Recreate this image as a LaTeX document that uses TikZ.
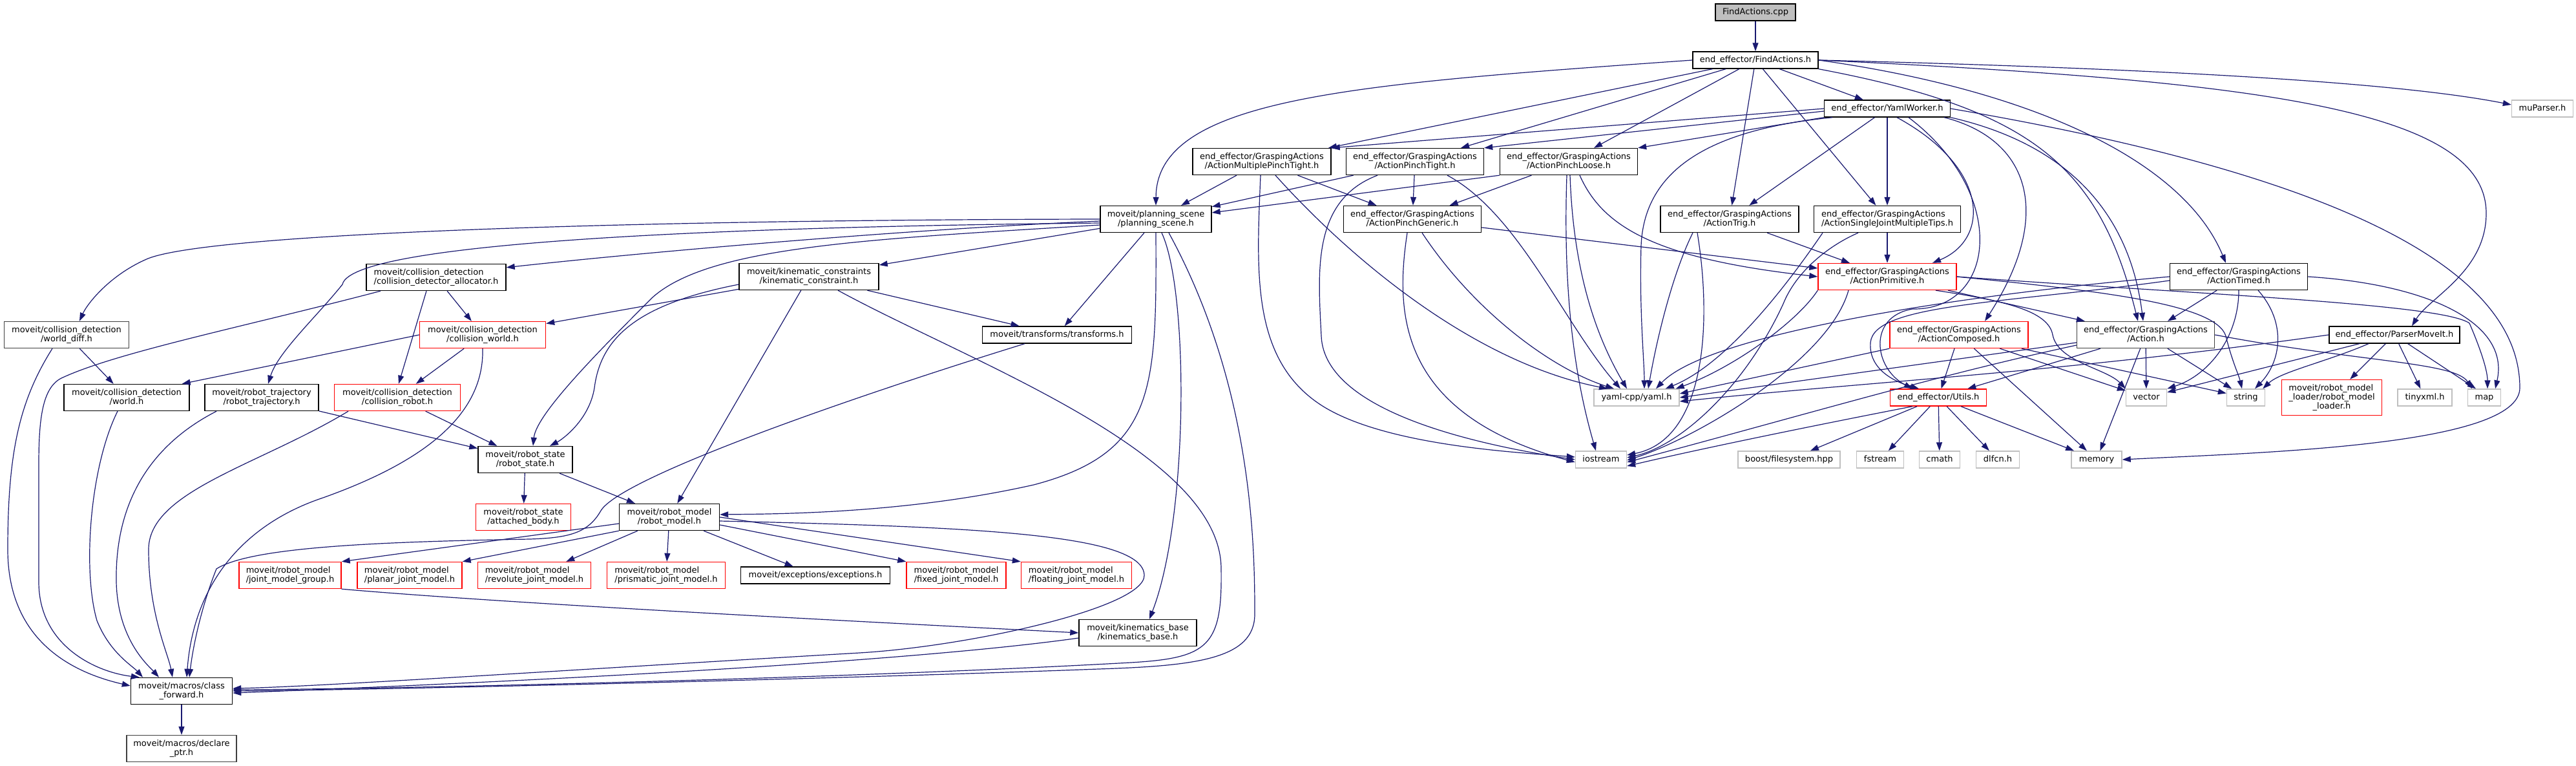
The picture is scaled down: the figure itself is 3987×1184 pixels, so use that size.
\documentclass[tikz,border=0pt]{standalone}
\usepackage{fontspec}
\setmainfont{DejaVu Sans}
\usetikzlibrary{arrows.meta}
\definecolor{edgeblue}{HTML}{191970}
\definecolor{extgray}{HTML}{BFBFBF}
\definecolor{darkb}{HTML}{404040}
\newcommand\mystrut{\rule[-3pt]{0pt}{13pt}}
\newcommand\twoln[2]{\setbox0=\hbox{#1}\setbox2=\hbox{#2}%
  \ifdim\wd0>\wd2 \dimen0=\wd0 \else\dimen0=\wd2 \fi
  \vbox{\baselineskip=14pt\hbox to\dimen0{\mystrut#1\hfil}\hbox to\dimen0{\mystrut\hfil#2\hfil}}}
\newcommand\threeln[3]{\setbox0=\hbox{#1}\setbox2=\hbox{#2}\setbox4=\hbox{#3}%
  \dimen0=\wd0 \ifdim\wd2>\dimen0 \dimen0=\wd2 \fi \ifdim\wd4>\dimen0 \dimen0=\wd4 \fi
  \vbox{\baselineskip=14pt\hbox to\dimen0{\mystrut#1\hfil}\hbox to\dimen0{\mystrut#2\hfil}\hbox to\dimen0{\mystrut\hfil#3\hfil}}}
\newcommand\ga{end\_effector/GraspingActions}
\begin{document}
\begin{tikzpicture}[x=1pt,y=-1pt,
  nd/.style={draw=black, fill=white, line width=1.4pt, inner sep=0pt, minimum height=26pt,
    font=\fontsize{13}{14}\selectfont, execute at begin node=\mystrut},
  nd2/.style={nd, minimum height=41pt},
  rb/.style={draw=red},
  gb/.style={draw=extgray},
  db/.style={draw=darkb},
  conn/.style={draw=edgeblue, line width=1.2pt, -{Triangle[length=13pt,width=9pt]}}]
\useasboundingbox (0,0) rectangle (3987,1184);
\fill[white] (0,0) rectangle (3987,1184);

% ---------- nodes ----------
\node[nd, minimum width=124pt, fill=extgray] (cpp) at (2717,19) {FindActions.cpp};
\node[nd, minimum width=194pt] (fah) at (2717,93) {end\_effector/FindActions.h};
\node[nd, minimum width=195pt] (yw) at (2921,168) {end\_effector/YamlWorker.h};
\node[nd, gb, minimum width=95pt] (mup) at (3935,168) {muParser.h};
\node[nd2, minimum width=214pt] (ampt) at (1953,250) {\twoln{\ga}{/ActionMultiplePinchTight.h}};
\node[nd2, minimum width=213pt] (apt) at (2190,250) {\twoln{\ga}{/ActionPinchTight.h}};
\node[nd2, minimum width=213pt] (apl) at (2428,250) {\twoln{\ga}{/ActionPinchLoose.h}};
\node[nd2, minimum width=172pt] (ps) at (1789,339) {\twoln{moveit/planning\_scene}{/planning\_scene.h}};
\node[nd2, minimum width=213pt] (apg) at (2186,339) {\twoln{\ga}{/ActionPinchGeneric.h}};
\node[nd2, minimum width=214pt] (atrig) at (2677,339) {\twoln{\ga}{/ActionTrig.h}};
\node[nd2, minimum width=227pt] (asj) at (2921,339) {\twoln{\ga}{/ActionSingleJointMultipleTips.h}};
\node[nd2, minimum width=216pt] (cda) at (675,429) {\twoln{moveit/collision\_detection}{/collision\_detector\_allocator.h}};
\node[nd2, minimum width=216pt] (kc) at (1252,428) {\twoln{moveit/kinematic\_constraints}{/kinematic\_constraint.h}};
\node[nd2, rb, minimum width=214pt] (aprim) at (2921,428) {\twoln{\ga}{/ActionPrimitive.h}};
\node[nd2, minimum width=213pt] (atimed) at (3465,428) {\twoln{\ga}{/ActionTimed.h}};
\node[nd2, db, minimum width=193pt] (wd) at (103,518) {\twoln{moveit/collision\_detection}{/world\_diff.h}};
\node[nd2, rb, minimum width=195pt] (cw) at (747,518) {\twoln{moveit/collision\_detection}{/collision\_world.h}};
\node[nd, minimum width=231pt] (tf) at (1636,518) {moveit/transforms/transforms.h};
\node[nd2, rb, minimum width=214pt] (acomp) at (3032,518) {\twoln{\ga}{/ActionComposed.h}};
\node[nd2, db, minimum width=213pt] (act) at (3321,518) {\twoln{\ga}{/Action.h}};
\node[nd, minimum width=202pt] (pm) at (3706,518) {end\_effector/ParserMoveIt.h};
\node[nd2, minimum width=194pt] (world) at (196,615) {\twoln{moveit/collision\_detection}{/world.h}};
\node[nd2, minimum width=176pt] (rt) at (405,615) {\twoln{moveit/robot\_trajectory}{/robot\_trajectory.h}};
\node[nd2, rb, minimum width=195pt] (cr) at (615,615) {\twoln{moveit/collision\_detection}{/collision\_robot.h}};
\node[nd, gb, minimum width=132pt] (yaml) at (2533,615) {yaml-cpp/yaml.h};
\node[nd, rb, minimum width=149pt] (utils) at (3000,615) {end\_effector/Utils.h};
\node[nd, gb, minimum width=63pt] (vec) at (3322,615) {vector};
\node[nd, gb, minimum width=59pt] (str) at (3476,615) {string};
\node[nd, rb, minimum width=155pt, minimum height=55pt] (rml) at (3609,615) {\threeln{moveit/robot\_model}{\_loader/robot\_model}{\_loader.h}};
\node[nd, gb, minimum width=84pt] (txml) at (3753,615) {tinyxml.h};
\node[nd, gb, minimum width=51pt] (map) at (3845,615) {map};
\node[nd2, minimum width=146pt] (rs) at (813,711) {\twoln{moveit/robot\_state}{/robot\_state.h}};
\node[nd, gb, minimum width=79pt] (ios) at (2478,711) {iostream};
\node[nd, gb, minimum width=158pt] (boost) at (2769,711) {boost/filesystem.hpp};
\node[nd, gb, minimum width=73pt] (fst) at (2910,711) {fstream};
\node[nd, gb, minimum width=63pt] (cmath) at (3002,711) {cmath};
\node[nd, gb, minimum width=67pt] (dlfcn) at (3092,711) {dlfcn.h};
\node[nd, gb, minimum width=78pt] (mem) at (3245,711) {memory};
\node[nd2, rb, minimum width=147pt] (ab) at (810,800) {\twoln{moveit/robot\_state}{/attached\_body.h}};
\node[nd2, minimum width=155pt] (rm) at (1036,800) {\twoln{moveit/robot\_model}{/robot\_model.h}};
\node[nd2, rb, minimum width=158pt] (jmg) at (449,890) {\twoln{moveit/robot\_model}{/joint\_model\_group.h}};
\node[nd2, rb, minimum width=162pt] (pjm) at (634,890) {\twoln{moveit/robot\_model}{/planar\_joint\_model.h}};
\node[nd2, rb, minimum width=175pt] (rjm) at (827,890) {\twoln{moveit/robot\_model}{/revolute\_joint\_model.h}};
\node[nd2, rb, minimum width=183pt] (prjm) at (1031,890) {\twoln{moveit/robot\_model}{/prismatic\_joint\_model.h}};
\node[nd, minimum width=231pt] (exc) at (1262,890) {moveit/exceptions/exceptions.h};
\node[nd2, rb, minimum width=154pt] (fjm) at (1480,890) {\twoln{moveit/robot\_model}{/fixed\_joint\_model.h}};
\node[nd2, rb, minimum width=171pt] (fljm) at (1666,890) {\twoln{moveit/robot\_model}{/floating\_joint\_model.h}};
\node[nd2, minimum width=182pt] (kb) at (1761,979) {\twoln{moveit/kinematics\_base}{/kinematics\_base.h}};
\node[nd2, minimum width=157pt] (cf) at (281,1069) {\twoln{moveit/macros/class}{\_forward.h}};
\node[nd2, db, minimum width=170pt] (dp) at (281,1158) {\twoln{moveit/macros/declare}{\_ptr.h}};

% ---------- edges: top ----------
\draw[conn] (cpp) -- (fah);
\draw[conn] (fah.west) .. controls (2100,130) and (1790,150) .. (ps.north);
\draw[conn] (fah) -- (ampt);
\draw[conn] (fah) -- (apt);
\draw[conn] (fah) -- (apl);
\draw[conn] (fah) -- (atrig);
\draw[conn] (fah) -- (asj);
\draw[conn] (fah) -- (yw);
\draw[conn] (fah.south east) .. controls (3150,170) and (3250,260) .. ([xshift=-12pt]act.north);
\draw[conn] (fah.east) .. controls (3150,140) and (3380,250) .. ([xshift=-20pt]atimed.north);
\draw[conn] (fah.east) .. controls (3300,105) and (3700,125) .. ([yshift=6pt]mup.west);
\draw[conn] (fah.east) .. controls (3500,125) and (3848,170) .. (3848,330) .. controls (3848,420) and (3760,460) .. ([xshift=27pt]pm.north);

\draw[conn] (yw.west) -- (ampt.north east);
\draw[conn] ([yshift=-4pt]yw.west) -- (apt.north east);
\draw[conn] (yw.south west) -- (apl.north east);
\draw[conn] (yw) -- (atrig);
\draw[conn] (yw) -- (asj);
\draw[conn] ([xshift=15pt]yw.south) .. controls (3080,260) and (3080,370) .. ([xshift=70pt]aprim.north);
\draw[conn] ([xshift=33pt]yw.south) .. controls (3110,300) and (3090,480) .. (2960,478) .. controls (2890,490) and (2900,570) .. ([xshift=-40pt]utils.north);
\draw[conn] ([xshift=-10pt]yw.south east) .. controls (3140,215) and (3180,330) .. ([xshift=40pt]acomp.north);
\draw[conn] (yw.south east) .. controls (3230,230) and (3300,360) .. ([xshift=-4pt]act.north);
\draw[conn] (yw.east) .. controls (3500,250) and (3900,380) .. (3900,600) .. controls (3900,690) and (3500,700) .. (mem.east);
\draw[conn] ([xshift=-85pt]yw.south) .. controls (2650,200) and (2545,260) .. (2540,380) .. controls (2537,480) and (2545,560) .. ([xshift=12pt]yaml.north);

% ---------- edges: grasping actions ----------
\draw[conn] (ampt) -- (ps);
\draw[conn] (ampt) -- (apg);
\draw[conn] ([xshift=-2pt]ampt.south) .. controls (1945,420) and (1935,560) .. (2050,630) .. controls (2150,690) and (2350,700) .. ([yshift=4pt]ios.west);
\draw[conn] ([xshift=21pt]ampt.south) .. controls (2090,400) and (2280,560) .. ([xshift=-45pt]yaml.north);

\draw[conn] (apt) -- (ps);
\draw[conn] (apt) -- (apg);
\draw[conn] ([xshift=-58pt]apt.south) .. controls (2030,310) and (2040,420) .. (2045,520) .. controls (2050,640) and (2300,690) .. (ios.west);
\draw[conn] ([xshift=50pt]apt.south) .. controls (2350,330) and (2420,500) .. ([xshift=-25pt]yaml.north);

\draw[conn] (apl.south west) -- ([yshift=10pt]ps.east);
\draw[conn] (apl) -- (apg);
\draw[conn] ([xshift=-3pt]apl.south) .. controls (2420,420) and (2430,560) .. ([xshift=-8pt]ios.north);
\draw[conn] ([xshift=2pt]apl.south) .. controls (2435,420) and (2470,520) .. ([xshift=-15pt]yaml.north);
\draw[conn] ([xshift=17pt]apl.south) .. controls (2480,350) and (2560,400) .. (aprim.west);

\draw[conn] (apg) -- (aprim);
\draw[conn] ([xshift=-8pt]apg.south) .. controls (2160,480) and (2160,640) .. ([yshift=-4pt]ios.west);
\draw[conn] ([xshift=15pt]apg.south) .. controls (2280,480) and (2400,570) .. ([xshift=-35pt]yaml.north);

\draw[conn] ([xshift=-57pt]atrig.south) .. controls (2590,420) and (2565,520) .. ([xshift=18pt]yaml.north);
\draw[conn] ([xshift=-50pt]atrig.south) .. controls (2650,500) and (2640,680) .. ([yshift=7pt]ios.east);
\draw[conn] (atrig) -- (aprim);

\draw[conn] (asj) -- (aprim);
\draw[conn] ([xshift=-100pt]asj.south) .. controls (2780,420) and (2680,560) .. ([xshift=-22pt]yaml.north east);
\draw[conn] ([xshift=-45pt]asj.south) .. controls (2830,380) and (2780,420) .. (2760,470) .. controls (2700,600) and (2600,690) .. ([yshift=3pt]ios.east);

\draw[conn] (aprim.south west) .. controls (2780,500) and (2680,570) .. ([xshift=-6pt]yaml.north east);
\draw[conn] ([xshift=-60pt]aprim.south) .. controls (2830,560) and (2620,680) .. ([yshift=-1pt]ios.east);
\draw[conn] (aprim) -- (act);
\draw[conn] ([xshift=75pt]aprim.south) .. controls (3100,465) and (3170,480) .. (3177,518) .. controls (3185,560) and (3260,570) .. (vec.north west);
\draw[conn] (aprim.east) .. controls (3250,450) and (3430,470) .. (3445,520) .. controls (3455,560) and (3465,580) .. ([xshift=-6pt]str.north);
\draw[conn] (aprim.east) .. controls (3400,455) and (3780,470) .. (3822,500) .. controls (3835,530) and (3850,570) .. ([xshift=5pt]map.north);

\draw[conn] (acomp.south west) -- ([yshift=6pt]yaml.east);
\draw[conn] (acomp) -- (utils);
\draw[conn] (acomp) -- (mem);
\draw[conn] (acomp) -- (vec);
\draw[conn] (acomp) -- (str);

\draw[conn] ([yshift=-12pt]act.west) -- (yaml.east);
\draw[conn] ([yshift=-16pt]act.west) .. controls (3000,580) and (2800,640) .. ([yshift=-4pt]ios.east);
\draw[conn] (act) -- (utils);
\draw[conn] (act) -- (mem);
\draw[conn] (act) -- (vec);
\draw[conn] (act) -- (str);
\draw[conn] (act.east) .. controls (3650,560) and (3800,560) .. ([xshift=-19pt]map.north);

\draw[conn] (atimed) -- (act);
\draw[conn] (atimed.south) .. controls (3465,520) and (3420,580) .. (vec.north east);
\draw[conn] ([xshift=30pt]atimed.south) .. controls (3540,500) and (3530,560) .. ([xshift=14pt]str.north);
\draw[conn] (atimed.east) .. controls (3760,440) and (3885,500) .. ([xshift=17pt]map.north);
\draw[conn] (atimed.west) .. controls (3000,460) and (2640,520) .. ([xshift=30pt]yaml.north);
\draw[conn] ([yshift=-6pt]atimed.west) .. controls (3100,470) and (2900,470) .. (2895,530) .. controls (2892,570) and (2930,590) .. ([xshift=-30pt]utils.north);

\draw[conn] (pm) -- (vec);
\draw[conn] ([xshift=-40pt]pm.south) .. controls (3600,560) and (3530,575) .. ([xshift=-4pt]str.north east);
\draw[conn] (pm) -- (rml);
\draw[conn] (pm) -- (txml);
\draw[conn] (pm) -- ([xshift=-13pt]map.north);
\draw[conn] (pm.west) .. controls (3200,575) and (2900,590) .. ([yshift=-6pt]yaml.east);

\draw[conn] ([xshift=-40pt]utils.south) .. controls (2850,650) and (2650,690) .. ([yshift=-10pt]ios.east);
\draw[conn] (utils) -- (boost);
\draw[conn] (utils) -- (fst);
\draw[conn] (utils) -- (cmath);
\draw[conn] (utils) -- (dlfcn);
\draw[conn] (utils) -- (mem);

% ---------- edges: moveit ----------
\draw[conn] (ps.west) .. controls (1000,340) and (330,360) .. (229,400) .. controls (170,425) and (135,470) .. ([xshift=20pt]wd.north);
\draw[conn] ([yshift=-3pt]ps.west) .. controls (1400,355) and (1000,390) .. ([yshift=-6pt]cda.north east);
\draw[conn] ([yshift=-6pt]ps.west) .. controls (1200,350) and (545,370) .. (530,440) .. controls (490,490) and (430,545) .. ([xshift=10pt]rt.north);
\draw[conn] ([yshift=-9pt]ps.west) .. controls (1350,370) and (1100,380) .. (1010,460) .. controls (930,540) and (830,640) .. ([xshift=12pt]rs.north);
\draw[conn] (ps) -- (kc);
\draw[conn] (ps) -- (tf);
\draw[conn] (ps.south) .. controls (1790,600) and (1790,700) .. (1600,750) .. controls (1400,795) and (1200,795) .. ([yshift=4pt]rm.east);
\draw[conn] ([xshift=9pt]ps.south) .. controls (1840,450) and (1840,800) .. ([xshift=18pt]kb.north);
\draw[conn] ([xshift=20pt]ps.south) .. controls (1940,600) and (1942,850) .. (1942,950) .. controls (1942,1020) and (1850,1030) .. (1700,1035) .. controls (1300,1050) and (600,1067) .. (cf.east);

\draw[conn] (kc) -- (cw);
\draw[conn] ([yshift=-12pt]kc.west) .. controls (990,470) and (930,520) .. (920,600) .. controls (912,650) and (870,680) .. ([xshift=38pt]rs.north);
\draw[conn] (kc) -- (rm);
\draw[conn] (kc) -- (tf);
\draw[conn] ([xshift=45pt]kc.south) .. controls (1500,560) and (1890,700) .. (1890,880) .. controls (1892,1000) and (1870,1018) .. (1750,1025) .. controls (1300,1050) and (600,1066) .. ([yshift=2pt]cf.east);

\draw[conn] (cda) -- (cw);
\draw[conn] ([xshift=-15pt]cda.south) -- ([xshift=2pt]cr.north);
\draw[conn] ([xshift=-86pt]cda.south) .. controls (380,505) and (180,545) .. (95,585) .. controls (65,600) and (60,650) .. (60,720) -- (60,900) .. controls (60,1000) and (150,1040) .. ([xshift=-65pt]cf.north);

\draw[conn] (wd) -- (world);
\draw[conn] ([xshift=-22pt]wd.south) .. controls (30,620) and (12,700) .. (12,850) .. controls (12,990) and (110,1040) .. ([yshift=8pt]cf.west);

\draw[conn] (cw.west) -- ([xshift=-12pt]world.north east);
\draw[conn] (cw) -- (cr);
\draw[conn] (cw.south) .. controls (750,650) and (640,720) .. (500,770) .. controls (380,810) and (300,900) .. ([xshift=8pt]cf.north);

\draw[conn] ([xshift=-14pt]world.south) .. controls (140,720) and (127,880) .. (150,960) .. controls (170,1010) and (205,1030) .. ([xshift=-60pt]cf.north);

\draw[conn] ([xshift=-70pt]rt.south) .. controls (230,690) and (178,780) .. (180,900) .. controls (182,990) and (230,1030) .. ([xshift=-35pt]cf.north);
\draw[conn] (rt) -- (rs);

\draw[conn] ([xshift=-76pt]cr.south) .. controls (400,720) and (230,760) .. (230,850) .. controls (230,950) and (260,1010) .. ([xshift=-14pt]cf.north);
\draw[conn] (cr) -- (rs);

\draw[conn] (rs) -- (ab);
\draw[conn] (rs) -- (rm);

\draw[conn] ([xshift=-50pt]tf.south) .. controls (1300,620) and (960,740) .. (930,790) .. controls (910,825) and (880,832) .. (820,834) .. controls (600,838) and (390,845) .. (335,880) .. controls (315,930) and (300,990) .. ([xshift=12pt]cf.north);

\draw[conn] ([yshift=-10pt]rm.west) -- (jmg.north east);
\draw[conn] (rm.south west) -- (pjm.north east);
\draw[conn] (rm) -- (rjm);
\draw[conn] (rm) -- (prjm);
\draw[conn] (rm) -- (exc);
\draw[conn] ([yshift=-12pt]rm.east) -- (fjm.north west);
\draw[conn] (rm.east) -- (fljm.north west);
\draw[conn] ([yshift=-6pt]rm.east) .. controls (1500,815) and (1770,825) .. (1771,890) .. controls (1772,940) and (1500,1000) .. (1330,1010) .. controls (900,1035) and (500,1062) .. ([yshift=4pt]cf.east);

\draw[conn] (jmg.south east) .. controls (800,935) and (1400,965) .. (kb.west);
\draw[conn] ([yshift=-8pt]kb.west) .. controls (1400,1025) and (800,1055) .. ([yshift=-3pt]cf.east);
\draw[conn] (cf) -- (dp);
\end{tikzpicture}
\end{document}
